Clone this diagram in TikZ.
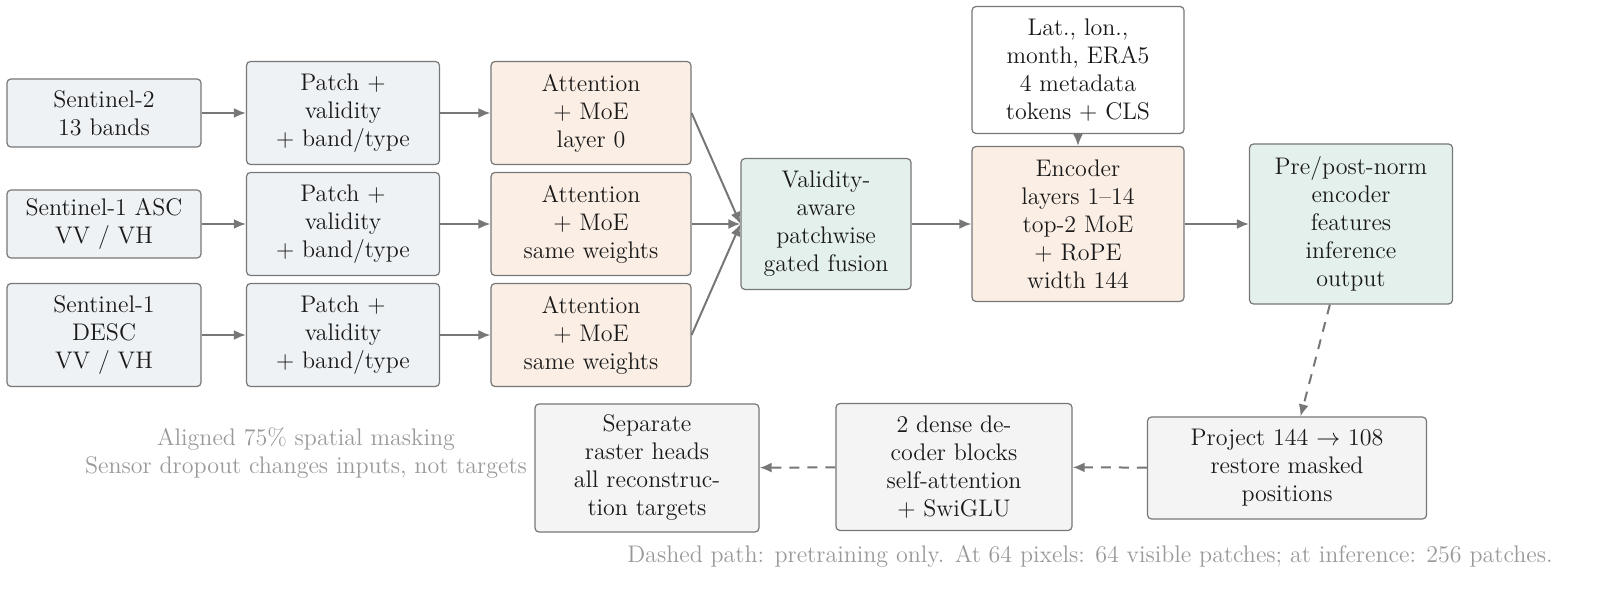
\documentclass[tikz,border=0pt]{standalone}
\usetikzlibrary{arrows.meta}
\definecolor{cin}{HTML}{EEF2F5}
\definecolor{catt}{HTML}{FBEEE5}
\definecolor{cfus}{HTML}{E4F0EC}
\definecolor{cdec}{HTML}{F4F4F4}
\definecolor{cbd}{HTML}{777777}
\definecolor{ctx}{HTML}{999999}
\newcommand{\bx}[7]{\node[box,fill=#6,minimum width=#4*0.5pt,minimum height=#5*0.5pt] (#1) at (#2,#3) {#7};}
\begin{document}
\begin{tikzpicture}[x=0.5pt,y=-0.5pt,
  box/.style={draw=cbd,line width=0.6pt,rounded corners=2pt,align=center,inner sep=0pt,
    font=\fontsize{12}{14}\selectfont,text=black!90},
  arr/.style={-{Latex[length=6pt,width=5pt]},draw=cbd,line width=1pt},
  darr/.style={arr,dash pattern=on 5pt off 4pt}]
\bx{s2}{104}{113}{194}{68}{cin}{Sentinel-2\\13 bands}
\bx{s1a}{104}{224}{194}{68}{cin}{Sentinel-1 ASC\\VV / VH}
\bx{s1d}{104}{335}{194}{103}{cin}{Sentinel-1\\DESC\\VV / VH}
\bx{p1}{343}{113}{193}{103}{cin}{Patch +\\validity\\+ band/type}
\bx{p2}{343}{224}{193}{103}{cin}{Patch +\\validity\\+ band/type}
\bx{p3}{343}{335}{193}{103}{cin}{Patch +\\validity\\+ band/type}
\bx{a1}{591}{113}{200}{103}{catt}{Attention\\+ MoE\\layer 0}
\bx{a2}{591}{224}{200}{103}{catt}{Attention\\+ MoE\\same weights}
\bx{a3}{591}{335}{200}{103}{catt}{Attention\\+ MoE\\same weights}
\bx{fu}{826}{224}{170}{131}{cfus}{Validity-\\aware\\patchwise\\gated fusion}
\bx{md}{1078}{70}{212}{127}{white}{Lat., lon.,\\month, ERA5\\4 metadata\\tokens + CLS}
\bx{en}{1078}{224}{212}{155}{catt}{Encoder\\layers 1--14\\top-2 MoE\\+ RoPE\\width 144}
\bx{pp}{1351}{224}{203}{160}{cfus}{Pre/post-norm\\encoder\\features\\inference\\output}
\bx{pj}{1287}{468}{279}{102}{cdec}{Project 144 $\rightarrow$ 108\\restore masked\\positions}
\bx{de}{954}{467}{236}{127}{cdec}{2 dense de-\\coder blocks\\self-attention\\+ SwiGLU}
\bx{se}{647}{468}{224}{128}{cdec}{Separate\\raster heads\\all reconstruc-\\tion targets}
\node[align=center,text=ctx,font=\fontsize{12}{14}\selectfont] (note) at (306,453) {Aligned 75\% spatial masking\\Sensor dropout changes inputs, not targets};
\node[text=ctx,font=\fontsize{12}{14}\selectfont,anchor=east,inner sep=0pt] (foot) at (1553,556) {Dashed path: pretraining only. At 64 pixels: 64 visible patches; at inference: 256 patches.};
\foreach \a/\b in {s2/p1,s1a/p2,s1d/p3,p1/a1,p2/a2,p3/a3}{\draw[arr] (\a.east) -- (\b.west);}
\draw[arr] (a1.east) -- (fu.west);
\draw[arr] (a2.east) -- (fu.west);
\draw[arr] (a3.east) -- (fu.west);
\draw[arr] (fu) -- (en);
\draw[arr] (en) -- (pp);
\draw[arr] (md) -- (en);
\draw[darr] (pp) -- (pj);
\draw[darr] (pj) -- (de);
\draw[darr] (de) -- (se);
\pgfresetboundingbox
\useasboundingbox (0,0) rectangle (1600,597);
\end{tikzpicture}
\end{document}
